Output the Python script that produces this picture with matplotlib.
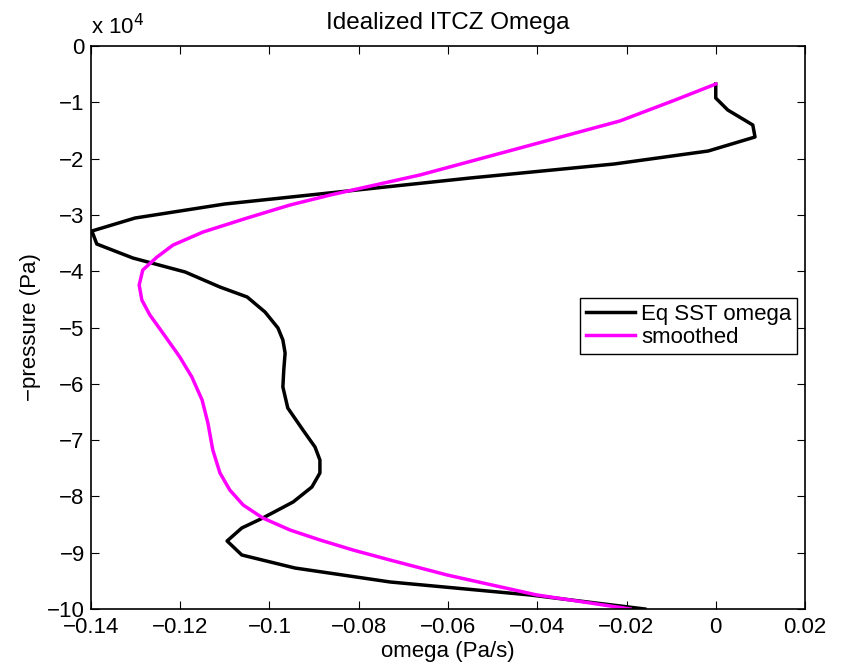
import matplotlib
matplotlib.use('Agg')
import matplotlib.pyplot as plt
from matplotlib.ticker import FuncFormatter

plt.rcParams['font.family'] = ['Liberation Sans', 'DejaVu Sans']
plt.rcParams['font.size'] = 16

# Eq SST omega profile (Pa/s) vs -pressure (Pa)
p_eq = [-6750, -9240, -11370, -14030, -16160, -18650, -20960, -23450, -26100,
        -28060, -30550, -32860, -35170, -37660, -40140, -42810, -44580, -47250,
        -50090, -52220, -54530, -57550, -60570, -64300, -68210, -71230, -73530,
        -75840, -78330, -80990, -83840, -85610, -87920, -90410, -92720, -95200,
        -97510, -100000]
w_eq = [0.0, 0.0, 0.0027, 0.0083, 0.0088, -0.0017, -0.0228, -0.0551, -0.0866,
        -0.110, -0.1301, -0.1398, -0.1387, -0.1306, -0.1189, -0.1111, -0.1050,
        -0.1010, -0.0981, -0.0970, -0.0965, -0.0968, -0.0970, -0.0959, -0.0925,
        -0.0898, -0.0887, -0.0887, -0.0905, -0.0947, -0.1015, -0.1062, -0.1095,
        -0.1062, -0.0943, -0.0730, -0.0416, -0.0159]

# smoothed profile
p_sm = [-6750, -9590, -13320, -18120, -22910, -26470, -28240, -30550, -33040,
        -35350, -37480, -39790, -42450, -45120, -47780, -50980, -55240, -58790,
        -62880, -66960, -71760, -75840, -78860, -81530, -83840, -85970, -87740,
        -89520, -91300, -93960, -97510, -100000]
w_sm = [0.0, -0.0091, -0.0215, -0.0439, -0.0663, -0.0864, -0.0954, -0.1050,
        -0.1149, -0.1216, -0.1252, -0.1284, -0.1292, -0.1286, -0.1268, -0.1239,
        -0.1201, -0.1174, -0.1151, -0.1138, -0.1127, -0.1111, -0.1089, -0.1059,
        -0.1015, -0.0954, -0.0887, -0.0813, -0.0730, -0.0602, -0.0401, -0.0192]

xticks = [-0.14, -0.12, -0.1, -0.08, -0.06, -0.04, -0.02, 0, 0.02]
yticks = [-100000, -90000, -80000, -70000, -60000, -50000, -40000, -30000, -20000, -10000, 0]

fig = plt.figure(figsize=(8.44, 6.66), dpi=100)
ax = fig.add_axes([0.1078, 0.0856, 0.846, 0.8453])

ax.plot(w_eq, p_eq, color='black', lw=2.5, label='Eq SST omega')
ax.plot(w_sm, p_sm, color='#ff00ff', lw=2.5, label='smoothed')

ax.set_xlim(-0.14, 0.02)
ax.set_ylim(-100000, 0)
ax.set_xticks(xticks)
ax.set_yticks(yticks)
ax.xaxis.set_major_formatter(FuncFormatter(lambda v, pos: ('%g' % round(v, 4)).replace('-', '\u2212')))
ax.yaxis.set_major_formatter(FuncFormatter(lambda v, pos: ('%g' % round(v / 1e4)).replace('-', '\u2212')))
ax.tick_params(direction='in', length=6, width=0.8, top=True, right=True)
ax.tick_params(axis='x', pad=6)
ax.tick_params(axis='y', pad=4.5)
for s in ax.spines.values():
    s.set_linewidth(1.2)

ax.text(0.0, 1.013, 'x 10$^{4}$', transform=ax.transAxes, ha='left', va='bottom', fontsize=16)
ax.set_title('Idealized ITCZ Omega', fontsize=17.5, pad=12)
ax.set_xlabel('omega (Pa/s)', fontsize=16, labelpad=2)
ax.set_ylabel('\u2212pressure (Pa)', fontsize=16, labelpad=4)

leg = ax.legend(loc='upper right', bbox_to_anchor=(0.989, 0.552), fancybox=False,
                edgecolor='black', framealpha=1, handlelength=2.2, handletextpad=0.3,
                borderpad=0.25, labelspacing=0.1, borderaxespad=0)
leg.get_frame().set_linewidth(1.0)

fig.savefig('out.png', dpi=100)
